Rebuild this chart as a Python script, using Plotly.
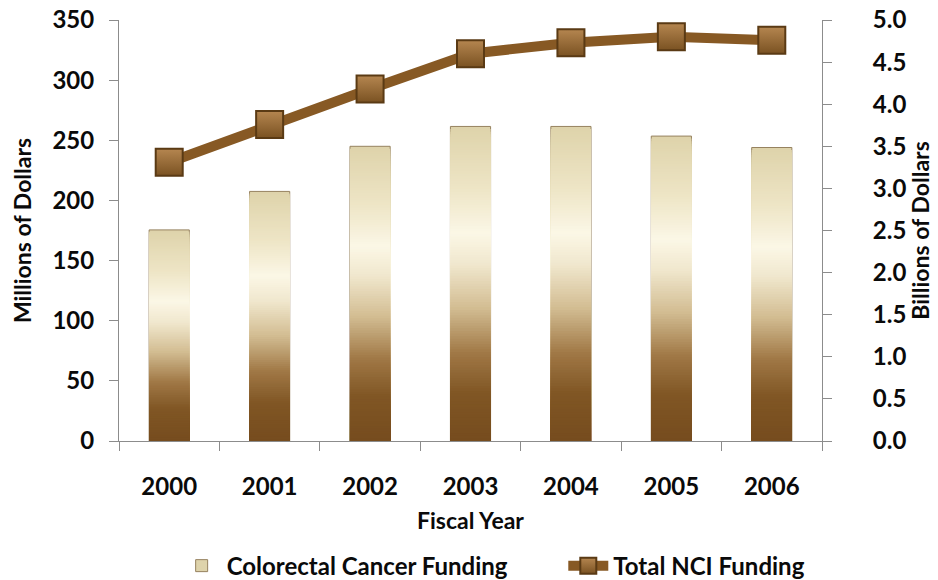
import plotly.graph_objects as go

# ---- data ----
years = ["2000", "2001", "2002", "2003", "2004", "2005", "2006"]
colorectal_millions = [175.5, 207.5, 245.0, 261.5, 261.5, 253.5, 244.0]
nci_billions = [3.31, 3.76, 4.18, 4.60, 4.73, 4.80, 4.76]

# ---- style: vertical gradient stops for bars (fraction of bar height -> rgb) ----
grad_stops = [
    (0.00, (118, 76, 30)),
    (0.15, (128, 86, 36)),
    (0.28, (160, 120, 70)),
    (0.42, (210, 188, 145)),
    (0.56, (240, 231, 205)),
    (0.66, (251, 247, 230)),
    (0.80, (238, 229, 198)),
    (1.00, (222, 211, 170)),
]


def grad_color(f):
    for (f0, c0), (f1, c1) in zip(grad_stops[:-1], grad_stops[1:]):
        if f0 <= f <= f1:
            t = (f - f0) / (f1 - f0) if f1 > f0 else 0
            r, g, b = (round(a + (bb - a) * t) for a, bb in zip(c0, c1))
            return f"rgb({r},{g},{b})"
    return "rgb(%d,%d,%d)" % grad_stops[-1][1]


FONT = "Lato"
fig = go.Figure()

N = 120
for k in range(N):
    f = 1 - k / N
    fig.add_trace(go.Bar(
        x=years,
        y=[v * f for v in colorectal_millions],
        name="Colorectal Cancer Funding",
        marker=dict(color=grad_color(f - 0.5 / N),
                    line=dict(width=1 if k == 0 else 0, color="rgb(150,130,95)")),
        showlegend=(k == 0),
        legendgroup="crc",
        legend="legend",
        hoverinfo="skip" if k else None,
        yaxis="y",
    ))

fig.add_trace(go.Scatter(
    x=years, y=nci_billions, name="Total NCI Funding", mode="lines+markers",
    line=dict(color="#875924", width=10),
    marker=dict(symbol="square", size=27, color="#B58650",
                gradient=dict(type="vertical", color="#7A5222"),
                line=dict(color="#5A3A14", width=2)),
    legend="legend2",
    yaxis="y2",
))

axis_col = "#8c8c8c"
tick_font = dict(family=FONT, size=24, color="#0a0a0a", weight="bold")
title_font = dict(family=FONT, size=23, color="#0a0a0a", weight="bold")
legend_font = dict(family=FONT, size=24, color="#0a0a0a", weight="bold")
n = len(years)
bounds = [i - 0.5 for i in range(n + 1)]

fig.update_layout(
    width=938, height=580,
    margin=dict(l=119, r=116, t=20, b=139, autoexpand=False),
    paper_bgcolor="white", plot_bgcolor="white",
    barmode="overlay", bargap=0.6,
    font=dict(family=FONT, color="#111"),
    showlegend=True,
    legend=dict(orientation="h", x=0.082, xanchor="left", y=-0.297, yanchor="middle",
                font=legend_font, itemwidth=40),
    legend2=dict(orientation="h", x=0.632, xanchor="left", y=-0.297, yanchor="middle",
                 font=legend_font, itemwidth=40),
    xaxis=dict(type="category", range=[-0.5, n - 0.5], showline=True, linecolor=axis_col,
               ticks="outside", tickson="boundaries", ticklen=9, tickcolor=axis_col,
               tickfont=tick_font, showgrid=False, zeroline=False, automargin=False,
               ticklabelstandoff=24, ticklabeloverflow="allow",
               title=dict(text="Fiscal Year", standoff=14, font=title_font)),
    xaxis2=dict(overlaying="x", anchor="y", side="bottom", range=[-0.5, n - 0.5],
                tickvals=bounds, ticks="inside", ticklen=5, tickcolor=axis_col,
                showticklabels=False, showline=False, showgrid=False, zeroline=False,
                automargin=False),
    yaxis=dict(range=[0, 350], dtick=50, showline=True, linecolor=axis_col,
               ticks="outside", ticklen=9, tickcolor=axis_col, tickfont=tick_font,
               showgrid=False, zeroline=False, automargin=False, ticklabelstandoff=10,
               ticklabeloverflow="allow",
               title=dict(text="Millions of Dollars", standoff=14, font=title_font)),
    yaxis2=dict(range=[0, 5], dtick=0.5, tickformat=".1f", overlaying="y", side="right",
                showline=True, linecolor=axis_col, ticks="outside", ticklen=9,
                tickcolor=axis_col, tickfont=tick_font, showgrid=False, zeroline=False,
                automargin=False, ticklabelstandoff=36, ticklabeloverflow="allow",
                title=dict(text="Billions of Dollars", standoff=0, font=title_font)),
    yaxis3=dict(range=[0, 350], dtick=50, overlaying="y", side="left", anchor="x",
                ticks="inside", ticklen=8, tickcolor=axis_col, showticklabels=False,
                showgrid=False, zeroline=False, showline=False, automargin=False),
    yaxis4=dict(range=[0, 5], dtick=0.5, overlaying="y", side="right", anchor="x",
                ticks="inside", ticklen=8, tickcolor=axis_col, showticklabels=False,
                showgrid=False, zeroline=False, showline=False, automargin=False),
)

fig.write_html("out.html", config={"displayModeBar": False},
               post_script="document.body.style.margin='0';document.body.style.padding='0';")
